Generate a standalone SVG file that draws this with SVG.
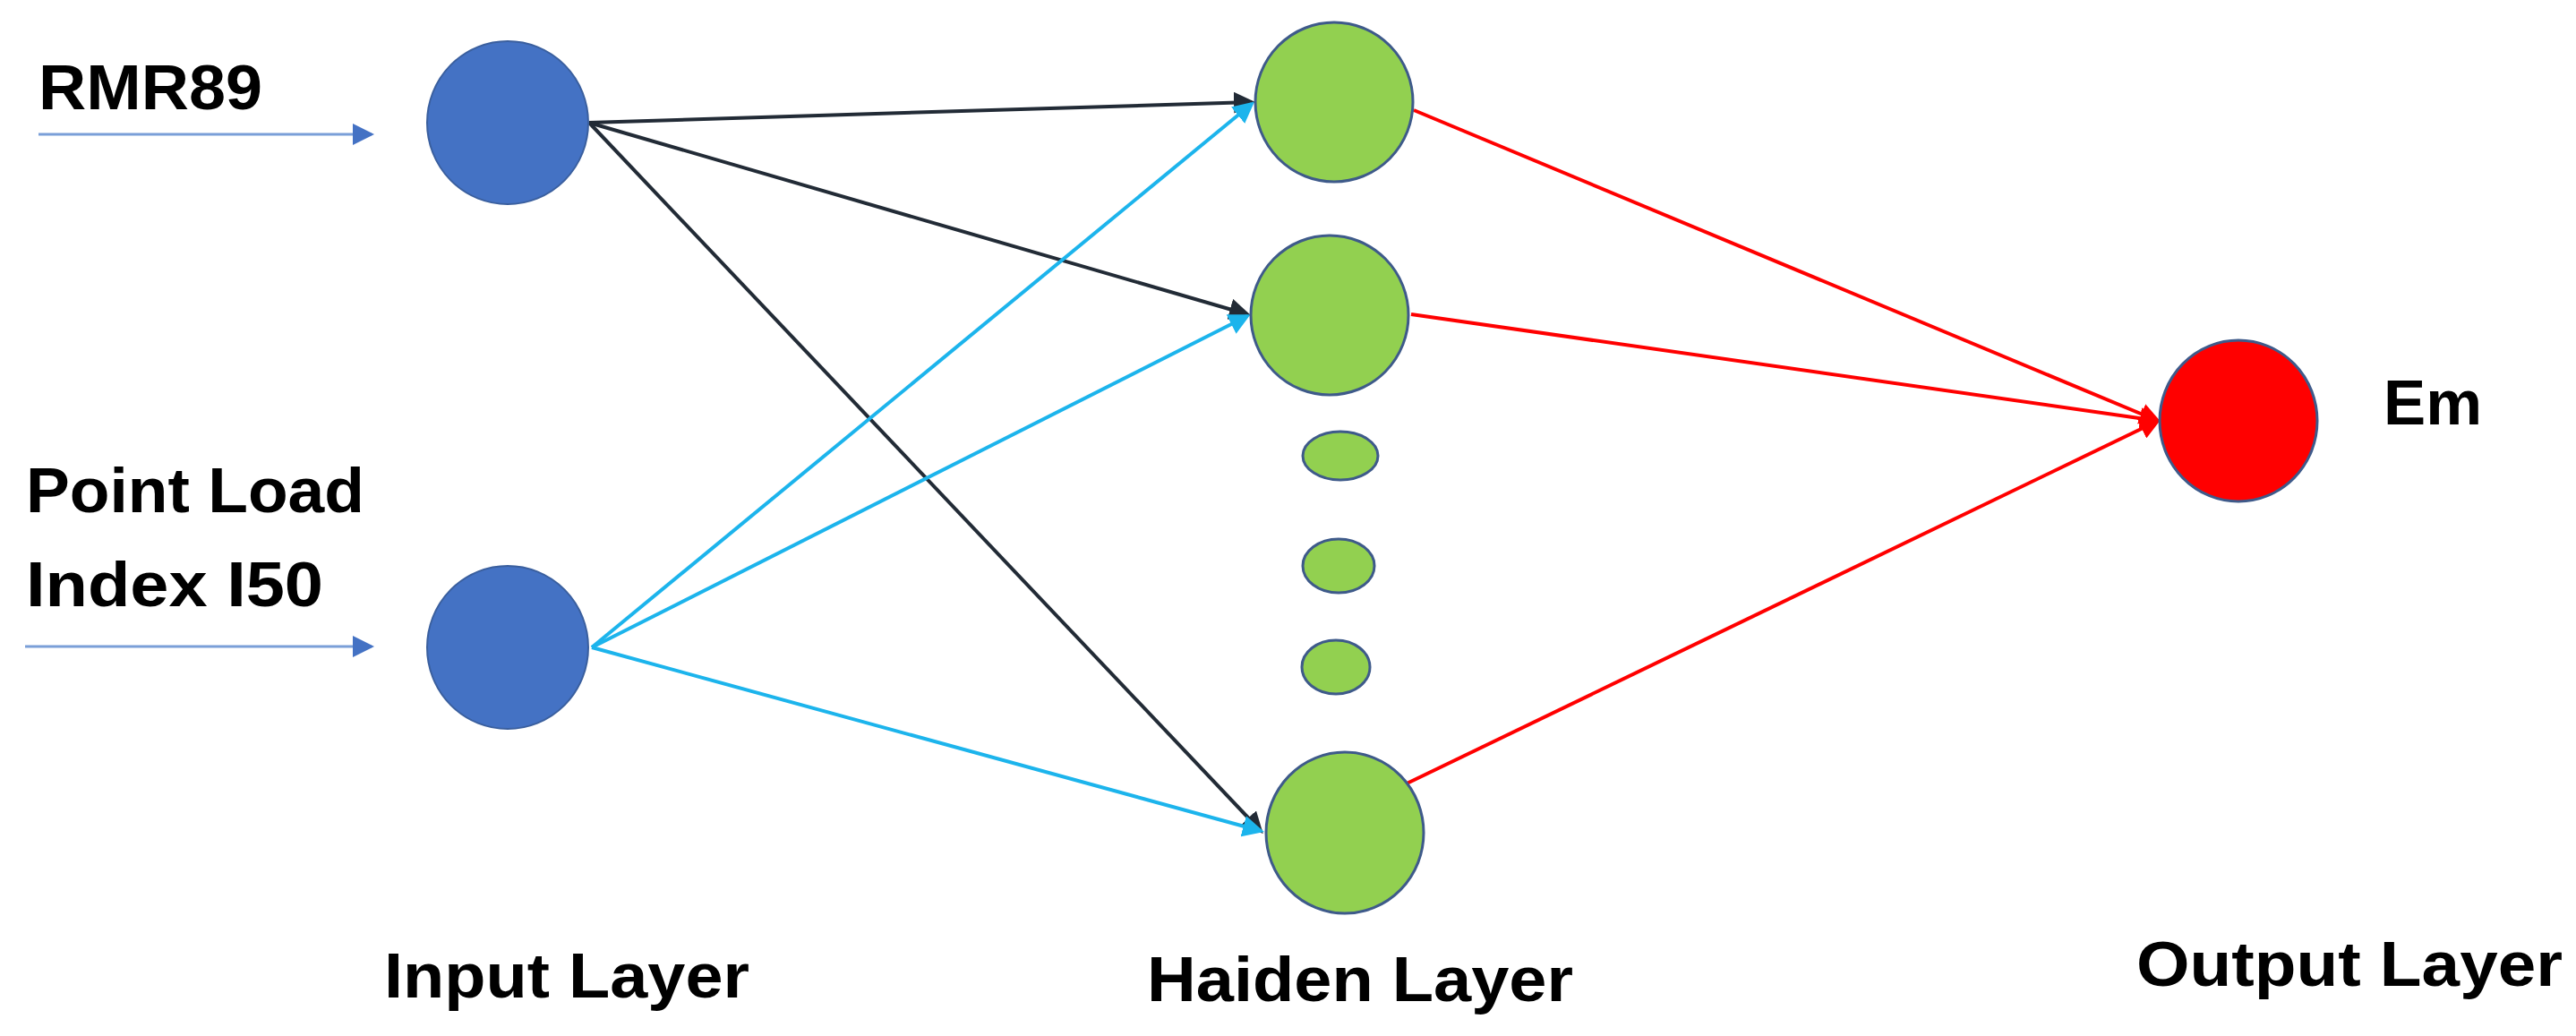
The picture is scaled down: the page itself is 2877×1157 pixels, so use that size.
<svg xmlns="http://www.w3.org/2000/svg" width="2877" height="1157" viewBox="0 0 2877 1157">
<style>
text{font-family:"Liberation Sans",Arial,sans-serif;font-weight:bold;font-size:70px;fill:#000}
.in{fill:#4472c4;stroke:#3a5f9e;stroke-width:2}
.hid{fill:#92d050;stroke:#3e5a8a;stroke-width:3}
.out{fill:#ff0000;stroke:#3e5a8a;stroke-width:3}
.k{stroke:#222b36;stroke-width:4;fill:none;marker-end:url(#ak)}
.c{stroke:#1cb4ec;stroke-width:4;fill:none;marker-end:url(#ac)}
.r{stroke:#ff0000;stroke-width:4;fill:none;marker-end:url(#ar)}
.b{stroke:#7a9fd8;stroke-width:3;fill:none;marker-end:url(#ab)}
</style>
<defs>
<marker id="ak" markerWidth="6" markerHeight="6" refX="5" refY="3" orient="auto" markerUnits="strokeWidth"><path d="M0,0L6,3L0,6z" fill="#222b36"/></marker>
<marker id="ac" markerWidth="6" markerHeight="6" refX="5" refY="3" orient="auto" markerUnits="strokeWidth"><path d="M0,0L6,3L0,6z" fill="#1cb4ec"/></marker>
<marker id="ar" markerWidth="6" markerHeight="6" refX="5" refY="3" orient="auto" markerUnits="strokeWidth"><path d="M0,0L6,3L0,6z" fill="#ff0000"/></marker>
<marker id="ab" markerWidth="8" markerHeight="8" refX="7" refY="4" orient="auto" markerUnits="strokeWidth"><path d="M0,0L8,4L0,8z" fill="#4472c4"/></marker>
</defs>
<g id="connectors">
<line class="b" x1="43" y1="150" x2="415" y2="150"/>
<line class="b" x1="28" y1="722" x2="415" y2="722"/>
<line class="k" x1="658" y1="137" x2="1398" y2="114"/>
<line class="k" x1="658" y1="137" x2="1393" y2="351"/>
<line class="k" x1="658" y1="137" x2="1408" y2="928"/>
<line class="c" x1="661" y1="723" x2="1398" y2="116"/>
<line class="c" x1="661" y1="723" x2="1393" y2="353"/>
<line class="c" x1="661" y1="723" x2="1408" y2="928"/>
<line class="r" x1="1579" y1="123" x2="2410" y2="470"/>
<line class="r" x1="1576" y1="351" x2="2410" y2="470"/>
<line class="r" x1="1567" y1="877" x2="2410" y2="470"/>
</g>
<g id="input1"><ellipse class="in" cx="567" cy="137" rx="90" ry="91"/></g>
<g id="input2"><ellipse class="in" cx="567" cy="723" rx="90" ry="91"/></g>
<g id="hidden1"><ellipse class="hid" cx="1490" cy="114" rx="88" ry="89"/></g>
<g id="hidden2"><ellipse class="hid" cx="1485" cy="352" rx="88" ry="89"/></g>
<g id="dot1"><ellipse class="hid" cx="1497" cy="509" rx="42" ry="27"/></g>
<g id="dot2"><ellipse class="hid" cx="1495" cy="632" rx="40" ry="30"/></g>
<g id="dot3"><ellipse class="hid" cx="1492" cy="745" rx="38" ry="30"/></g>
<g id="hidden3"><ellipse class="hid" cx="1502" cy="930" rx="88" ry="90"/></g>
<g id="output"><ellipse class="out" cx="2500" cy="470" rx="88" ry="90"/></g>
<g id="labels">
<text x="43" y="122" textLength="250" lengthAdjust="spacingAndGlyphs">RMR89</text>
<text x="29" y="572" textLength="378" lengthAdjust="spacingAndGlyphs">Point Load</text>
<text x="29" y="677" textLength="332" lengthAdjust="spacingAndGlyphs">Index I50</text>
<text x="2662" y="474" textLength="110" lengthAdjust="spacingAndGlyphs">Em</text>
<text x="429" y="1114" textLength="408" lengthAdjust="spacingAndGlyphs">Input Layer</text>
<text x="1281" y="1118" textLength="476" lengthAdjust="spacingAndGlyphs">Haiden Layer</text>
<text x="2386" y="1101" textLength="476" lengthAdjust="spacingAndGlyphs">Output Layer</text>
</g>
</svg>
